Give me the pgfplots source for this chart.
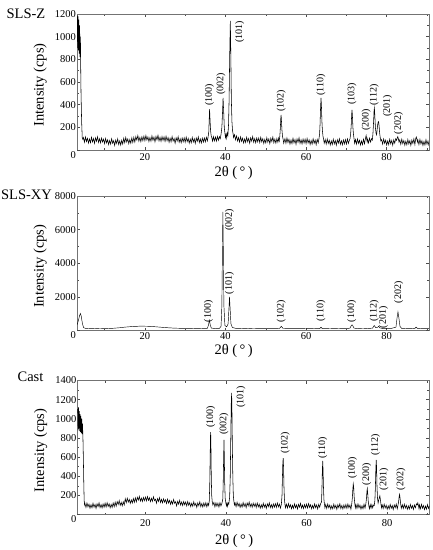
\documentclass[border=0pt]{standalone}
\usepackage{fontspec}
\setmainfont{Liberation Serif}
\usepackage{pgfplots}
\pgfplotsset{compat=1.18}
\tikzset{
  peak/.style={rotate=90, font=\fontsize{10}{11}\selectfont, inner sep=0pt},
  xrdline/.style={black, line width=0.55pt},
}
\pgfplotsset{
  xrdaxis/.style={
    scale only axis, width=352pt, anchor=south west,
    xmin=3.15, xmax=90.5, ymin=0,
    xtick={20,40,60,80}, minor xtick={10,30,50,70,90},
    minor y tick num=1,
    tick align=inside, major tick length=3pt, minor tick length=2pt,
    every tick/.style={black!70, line width=0.4pt},
    axis line style={black!55, line width=0.5pt},
    /pgf/number format/assume math mode=true,
    /pgf/number format/1000 sep={},
    xticklabel style={font=\fontsize{10.5}{12}\selectfont},
    yticklabel style={font=\fontsize{10.5}{12}\selectfont, inner xsep=1pt},
    ylabel={Intensity (cps)},
    xlabel={2θ (\,°\,)},
    every axis y label/.style={at={(axis description cs:-0.105,0.478)}, rotate=90, anchor=center, font=\fontsize{14.5}{16}\selectfont},
    every axis x label/.style={at={(axis description cs:0.445,0)}, anchor=center, font=\fontsize{14.5}{16}\selectfont},
    extra y ticks={0},
    extra y tick style={yticklabel style={yshift=-5pt}},
  },
}
\begin{document}
\begin{tikzpicture}
\path[use as bounding box] (0,0) rectangle (433pt,-550pt);
\node[font=\fontsize{14.5}{16}\selectfont] at (26pt,-13.3pt) {SLS-Z};
\node[font=\fontsize{14.5}{16}\selectfont] at (26.5pt,-195pt) {SLS-XY};
\node[font=\fontsize{14.5}{16}\selectfont] at (30.5pt,-376.7pt) {Cast};

% ---------------- SLS-Z ----------------
\begin{axis}[xrdaxis, at={(77pt,-150pt)}, height=136pt, ymax=1200,
  ytick={200,400,...,1200},
  x label style={yshift=-23pt}]
\addplot[xrdline] coordinates {
(3.2,1190)(3.3,900)(3.4,1180)(3.5,880)(3.6,1150)(3.7,850)(3.8,1100)(3.9,820)(4.0,1000)(4.05,780)(4.15,500)(4.3,250)(4.45,110)(4.6,95)
(4.75,109)(5.0,69)(5.25,115)(5.5,75)(5.75,103)(6.0,61)(6.25,97)(6.5,65)(6.75,112)(7.0,72)(7.25,101)(7.5,59)(7.75,107)(8.0,77)(8.25,117)(8.5,67)(8.75,99)(9.0,63)(9.25,105)(9.5,71)
(9.75,96)(10.0,56)(10.25,102)(10.5,62)(10.75,90)(11.0,48)(11.25,84)(11.5,52)(11.75,99)(12.0,59)(12.25,82)(12.5,40)(12.75,88)(13.0,58)(13.25,98)(13.5,48)(13.75,80)(14.0,44)(14.25,86)(14.5,52)
(14.75,104)(15.0,64)(15.25,110)(15.5,70)(15.75,98)(16.0,56)(16.25,92)(16.5,60)(16.75,107)(17.0,67)(17.25,112)(17.5,70)(17.75,118)(18.0,88)(18.25,128)(18.5,78)(18.75,110)(19.0,74)(19.25,116)(19.5,82)
(19.75,122)(20.0,82)(20.25,128)(20.5,88)(20.75,116)(21.0,74)(21.25,110)(21.5,78)(21.75,125)(22.0,85)(22.25,114)(22.5,72)(22.75,120)(23.0,90)(23.25,130)(23.5,80)(23.75,112)(24.0,76)(24.25,118)(24.5,84)
(24.75,116)(25.0,76)(25.25,122)(25.5,82)(25.75,110)(26.0,68)(26.25,104)(26.5,72)(26.75,119)(27.0,79)(27.25,102)(27.5,60)(27.75,108)(28.0,78)(28.25,118)(28.5,68)(28.75,100)(29.0,64)(29.25,106)(29.5,72)
(29.75,108)(30.0,68)(30.25,114)(30.5,74)(30.75,102)(31.0,60)(31.25,96)(31.5,64)(31.75,111)(32.0,71)(32.25,100)(32.5,58)(32.75,106)(33.0,76)(33.25,116)(33.5,66)(33.75,98)(34.0,62)(34.25,104)(34.5,70)
(34.75,106)(35.0,72)(35.25,112)(35.5,80)
(35.7,120)(35.85,160)(35.95,260)(36.05,360)(36.15,280)(36.3,170)(36.45,125)(36.6,110)
(36.8,78)(37.0,118)(37.25,80)(37.5,115)(37.75,78)(38.0,120)(38.25,86)(38.5,118)(38.7,100)
(38.9,140)(39.1,200)(39.25,320)(39.4,460)(39.55,340)(39.7,200)(39.85,150)(40.0,110)(40.15,140)(40.3,105)(40.45,150)(40.6,130)
(40.75,220)(40.9,450)(41.05,850)(41.2,1140)(41.32,850)(41.45,450)(41.6,250)(41.75,170)(41.9,140)(42.0,110)(42.25,135)(42.5,90)(42.75,125)(43.0,80)
(43.25,110)(43.5,70)(43.75,116)(44.0,76)(44.25,104)(44.5,62)(44.75,98)(45.0,66)(45.25,113)(45.5,73)(45.75,102)(46.0,60)(46.25,108)(46.5,78)(46.75,118)(47.0,68)(47.25,100)(47.5,64)(47.75,106)(48.0,72)
(48.25,106)(48.5,66)(48.75,112)(49.0,72)(49.25,100)(49.5,58)(49.75,94)(50.0,62)(50.25,109)(50.5,69)(50.75,98)(51.0,56)(51.25,104)(51.5,74)(51.75,114)(52.0,64)(52.25,96)(52.5,60)(52.75,102)(53.0,68)
(53.2,105)(53.35,80)(53.5,130)(53.62,200)(53.72,280)(53.8,310)(53.9,250)(54.0,180)(54.15,120)(54.3,95)(54.45,60)
(54.75,100)(55.0,60)(55.25,106)(55.5,66)(55.75,94)(56.0,52)(56.25,88)(56.5,56)(56.75,103)(57.0,63)(57.25,92)(57.5,50)(57.75,98)(58.0,68)(58.25,108)(58.5,58)(58.75,90)(59.0,54)(59.25,96)(59.5,62)
(59.75,96)(60.0,56)(60.25,102)(60.5,62)(60.75,90)(61.0,48)(61.25,84)(61.5,52)(61.75,99)(62.0,59)(62.25,88)(62.5,46)(62.75,94)(63.0,64)
(63.2,100)(63.35,140)(63.47,230)(63.58,360)(63.7,460)(63.8,400)(63.92,260)(64.05,170)(64.2,120)(64.35,95)(64.5,60)
(64.75,92)(65.0,52)(65.25,98)(65.5,58)(65.75,86)(66.0,44)(66.25,80)(66.5,48)(66.75,95)(67.0,55)(67.25,84)(67.5,42)(67.75,90)(68.0,60)(68.25,100)(68.5,50)(68.75,82)(69.0,46)(69.25,88)(69.5,54)(69.75,92)(70.0,52)(70.25,98)(70.5,58)(70.75,86)
(70.9,100)(71.05,140)(71.2,220)(71.32,320)(71.4,355)(71.5,300)(71.62,200)(71.75,140)(71.9,100)(72.05,60)
(72.25,92)(72.5,52)(72.75,98)(73.0,58)(73.25,86)(73.5,44)(73.75,80)(74.0,48)(74.25,95)(74.5,55)
(74.65,85)(74.8,115)(74.9,128)(75.0,105)(75.15,72)(75.25,98)(75.5,62)(75.75,104)(76.0,70)(76.25,100)(76.45,88)
(76.6,150)(76.75,250)(76.87,350)(76.95,370)(77.05,310)(77.2,200)(77.35,150)(77.5,135)(77.62,175)(77.75,220)(77.88,245)(78.0,250)(78.12,210)(78.25,150)(78.4,110)(78.55,80)
(78.75,92)(79.0,52)(79.25,98)(79.5,58)(79.75,86)(80.0,44)(80.25,80)(80.5,48)(80.75,95)(81.0,55)(81.25,84)(81.5,42)(81.75,90)(82.0,60)(82.25,100)
(82.45,85)(82.6,105)(82.75,118)(82.9,100)(83.05,70)
(83.25,90)(83.5,50)(83.75,96)(84.0,56)(84.25,84)(84.5,42)(84.75,78)(85.0,46)(85.25,93)(85.5,53)(85.75,82)(86.0,40)(86.25,88)(86.5,58)(86.75,98)(87.0,48)
(87.2,100)(87.35,115)(87.5,95)(87.65,70)
(87.75,88)(88.0,48)(88.25,94)(88.5,54)(88.75,82)(89.0,40)(89.25,76)(89.5,44)(89.75,91)(90.0,51)(90.25,80)(90.5,38)
};
\node[peak] at (axis cs:36.0,487) {(100)};
\node[peak] at (axis cs:38.9,585) {(002)};
\node[peak] at (axis cs:43.5,1045) {(101)};
\node[peak] at (axis cs:53.8,436) {(102)};
\node[peak] at (axis cs:63.7,576) {(110)};
\node[peak] at (axis cs:71.4,496) {(103)};
\node[peak] at (axis cs:74.9,265) {(200)};
\node[peak] at (axis cs:76.9,485) {(112)};
\node[peak] at (axis cs:80.2,389) {(201)};
\node[peak] at (axis cs:82.95,235) {(202)};
\end{axis}

% ---------------- SLS-XY ----------------
\begin{axis}[xrdaxis, at={(77pt,-330.5pt)}, height=134.5pt, ymax=8000,
  ytick={2000,4000,6000,8000},
  xticklabel style={yshift=2pt},
  x label style={yshift=-20pt}]
\addplot[black, line width=0.45pt] coordinates {
(3.2,350)(3.5,600)(3.8,900)(4.0,1010)(4.2,850)(4.5,400)(4.8,170)(5.2,130)
(6,120)(7,125)(8,115)(9,120)(10,110)(11,120)(12,130)(13,150)(14,170)(15,200)(16,220)(17,240)(18,250)(19,260)(20,255)(21,250)(22,235)(23,215)(24,195)(25,175)(26,160)(27,145)(28,135)(29,130)(30,125)(31,125)(32,120)(33,125)(34,120)
(35.5,130)(35.75,300)(36.0,610)(36.25,300)(36.5,140)(37.5,120)(38.5,130)
(38.9,250)(39.1,1500)(39.25,5000)(39.35,7050)(39.45,5000)(39.6,1500)(39.85,300)(40.3,220)
(40.65,400)(40.85,1300)(41.0,2000)(41.15,1300)(41.35,400)(41.7,180)(42.5,130)
(44,120)(45,125)(46,115)(47,120)(48,115)(49,115)(50,110)(51,115)(52,110)
(53.4,120)(53.7,210)(53.85,250)(54.0,200)(54.3,120)
(56,110)(57,115)(58,110)(59,108)(60,105)(61,110)(62,105)
(63.4,115)(63.7,200)(64.0,115)
(65,108)(66,105)(67,110)(68,105)(69,108)(70,110)
(70.9,140)(71.2,280)(71.4,340)(71.6,280)(71.9,140)
(73,110)(74,120)(75,115)(76.5,140)(76.9,300)(77.3,170)(77.7,180)(78.0,250)(78.3,160)(79,115)(80,110)(81,115)
(82.3,200)(82.6,800)(82.8,1110)(83.0,800)(83.3,250)(83.7,130)
(85,115)(86,110)(87,130)(87.3,200)(87.6,130)(89,110)(90.5,110)
};
\node[peak] at (axis cs:35.8,1150) {(100)};
\node[peak] at (axis cs:41.0,6575) {(002)};
\node[peak] at (axis cs:41.0,2800) {(101)};
\node[peak] at (axis cs:53.8,1150) {(102)};
\node[peak] at (axis cs:63.7,1150) {(110)};
\node[peak] at (axis cs:71.3,1150) {(100)};
\node[peak] at (axis cs:76.9,1150) {(112)};
\node[peak] at (axis cs:79.2,775) {(201)};
\node[peak] at (axis cs:83.0,2265) {(202)};
\end{axis}

% ---------------- Cast ----------------
\begin{axis}[xrdaxis, at={(77.5pt,-514.5pt)}, height=134pt, ymax=1400,
  ytick={200,400,...,1400},
  xticklabel style={yshift=-1pt},
  x label style={yshift=-26pt}]
\addplot[xrdline] coordinates {
(3.2,1100)(3.3,880)(3.4,1120)(3.5,900)(3.6,1080)(3.7,870)(3.8,1050)(3.9,860)(4.0,1030)(4.1,850)(4.2,1000)(4.3,840)(4.4,950)(4.5,800)(4.6,600)(4.7,350)(4.8,150)(4.9,100)
(5.0,114)(5.25,74)(5.5,120)(5.75,80)(6.0,108)(6.25,66)(6.5,102)(6.75,70)(7.0,117)(7.25,77)(7.5,106)(7.75,64)(8.0,112)(8.25,82)(8.5,122)(8.75,72)(9.0,104)(9.25,68)(9.5,110)(9.75,76)
(10.0,118)(10.25,78)(10.5,124)(10.75,84)(11.0,112)(11.25,70)(11.5,106)(11.75,74)(12.0,121)(12.25,81)(12.5,129)(12.75,87)(13.0,135)(13.25,105)(13.5,145)(13.75,95)(14.0,127)(14.25,91)(14.5,133)(14.75,99)
(15.0,164)(15.25,124)(15.5,170)(15.75,130)(16.0,158)(16.25,116)(16.5,152)(16.75,120)(17.0,167)(17.25,127)(17.5,174)(17.75,132)(18.0,180)(18.25,150)(18.5,190)(18.75,140)(19.0,172)(19.25,136)(19.5,178)(19.75,144)
(20.0,182)(20.25,142)(20.5,188)(20.75,148)(21.0,176)(21.25,134)(21.5,170)(21.75,138)(22.0,185)(22.25,145)(22.5,160)(22.75,118)(23.0,166)(23.25,136)(23.5,176)(23.75,126)(24.0,158)(24.25,122)(24.5,164)(24.75,130)
(25.0,154)(25.25,114)(25.5,160)(25.75,120)(26.0,148)(26.25,106)(26.5,142)(26.75,110)(27.0,157)(27.25,117)(27.5,132)(27.75,90)(28.0,138)(28.25,108)(28.5,148)(28.75,98)(29.0,130)(29.25,94)(29.5,136)(29.75,102)
(30.0,130)(30.25,90)(30.5,136)(30.75,96)(31.0,124)(31.25,82)(31.5,118)(31.75,86)(32.0,133)(32.25,93)(32.5,116)(32.75,74)(33.0,122)(33.25,92)(33.5,132)(33.75,82)(34.0,114)(34.25,78)(34.5,120)(34.75,86)
(35.0,124)(35.25,80)(35.5,118)(35.7,95)
(35.85,140)(35.97,320)(36.07,600)(36.15,820)(36.2,860)(36.27,700)(36.35,400)(36.45,200)(36.6,130)(36.75,100)
(37.0,126)(37.25,80)(37.5,122)(37.75,86)(38.0,118)(38.25,78)(38.5,124)(38.75,90)(39.0,120)
(39.2,160)(39.3,300)(39.4,560)(39.5,780)(39.58,620)(39.68,330)(39.8,170)(39.95,125)(40.1,90)(40.25,120)(40.4,85)(40.55,120)(40.7,110)
(40.9,180)(41.05,380)(41.17,750)(41.3,1150)(41.4,1270)(41.48,1080)(41.58,700)(41.7,380)(41.82,200)(41.95,140)(42.1,100)
(42.25,122)(42.5,82)(42.75,128)(43.0,88)(43.25,116)(43.5,74)(43.75,110)(44.0,78)(44.25,125)(44.5,85)(44.75,114)(45.0,72)(45.25,120)(45.5,90)(45.75,130)(46.0,80)(46.25,112)(46.5,76)(46.75,118)(47.0,84)
(47.25,114)(47.5,74)(47.75,120)(48.0,80)(48.25,108)(48.5,66)(48.75,102)(49.0,70)(49.25,117)(49.5,77)(49.75,106)(50.0,64)(50.25,112)(50.5,82)(50.75,122)(51.0,72)(51.25,104)(51.5,68)(51.75,110)(52.0,76)(52.25,114)(52.5,74)(52.75,120)(53.0,80)(53.25,108)(53.5,66)
(53.75,110)(53.9,200)(54.0,380)(54.1,540)(54.2,590)(54.28,500)(54.38,300)(54.5,160)(54.62,110)(54.75,70)
(55.0,108)(55.25,68)(55.5,114)(55.75,74)(56.0,102)(56.25,60)(56.5,96)(56.75,64)(57.0,111)(57.25,71)(57.5,100)(57.75,58)(58.0,106)(58.25,76)(58.5,116)(58.75,66)(59.0,98)(59.25,62)(59.5,104)(59.75,70)
(60.0,108)(60.25,68)(60.5,114)(60.75,74)(61.0,102)(61.25,60)(61.5,96)(61.75,64)(62.0,111)(62.25,71)(62.5,100)(62.75,58)(63.0,106)(63.25,76)(63.5,116)
(63.7,130)(63.8,250)(63.9,440)(64.0,560)(64.08,480)(64.18,300)(64.3,160)(64.42,110)(64.55,70)
(64.75,104)(65.0,64)(65.25,110)(65.5,70)(65.75,98)(66.0,56)(66.25,92)(66.5,60)(66.75,107)(67.0,67)(67.25,96)(67.5,54)(67.75,102)(68.0,72)(68.25,112)(68.5,62)(68.75,94)(69.0,58)(69.25,100)(69.5,66)(69.75,104)(70.0,64)(70.25,110)(70.5,70)(70.75,98)(71.0,56)
(71.2,110)(71.35,170)(71.47,260)(71.58,320)(71.68,290)(71.8,190)(71.95,120)(72.1,70)
(72.25,104)(72.5,64)(72.75,110)(73.0,70)(73.25,98)(73.5,56)(73.75,92)(74.0,60)(74.25,107)(74.5,67)
(74.7,110)(74.85,160)(74.97,240)(75.07,270)(75.17,220)(75.3,140)(75.45,90)(75.6,60)
(75.8,102)(76.0,66)(76.2,104)(76.4,70)(76.6,100)(76.8,95)
(76.95,150)(77.07,280)(77.18,470)(77.28,570)(77.36,500)(77.47,300)(77.6,170)(77.75,120)(77.9,150)(78.05,175)(78.18,195)(78.3,160)(78.45,110)(78.6,70)
(78.75,102)(79.0,62)(79.25,108)(79.5,68)(79.75,96)(80.0,54)(80.25,90)(80.5,58)(80.75,105)(81.0,65)(81.25,94)(81.5,52)(81.75,100)(82.0,70)(82.25,110)(82.5,60)
(82.7,100)(82.85,140)(82.97,190)(83.08,210)(83.2,170)(83.35,110)(83.5,65)
(83.75,102)(84.0,62)(84.25,108)(84.5,68)(84.75,96)(85.0,54)(85.25,90)(85.5,58)(85.75,105)(86.0,65)(86.25,94)(86.5,52)(86.75,100)(87.0,70)(87.25,110)
(87.45,100)(87.6,122)(87.75,95)(87.9,60)
(88.0,100)(88.25,60)(88.5,106)(88.75,66)(89.0,94)(89.25,52)(89.5,88)(89.75,56)(90.0,103)(90.25,63)(90.5,92)
};
\node[peak] at (axis cs:36.2,1019) {(100)};
\node[peak] at (axis cs:39.5,946) {(002)};
\node[peak] at (axis cs:43.7,1227) {(101)};
\node[peak] at (axis cs:54.7,749) {(102)};
\node[peak] at (axis cs:64.0,697) {(110)};
\node[peak] at (axis cs:71.4,490) {(100)};
\node[peak] at (axis cs:74.9,420) {(200)};
\node[peak] at (axis cs:77.1,725) {(112)};
\node[peak] at (axis cs:79.2,368) {(201)};
\node[peak] at (axis cs:83.4,368) {(202)};
\end{axis}
\end{tikzpicture}
\end{document}
